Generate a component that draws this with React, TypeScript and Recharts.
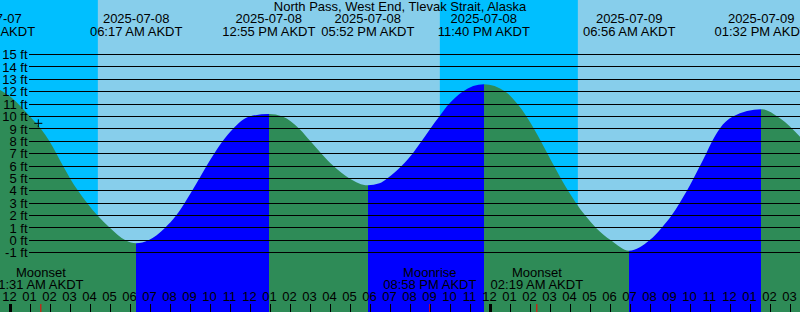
import { ComposedChart, Area, XAxis, YAxis, ReferenceArea, ReferenceDot } from "recharts";

const CHART_W = 800;
const CHART_H = 312;
const FONT = "'Liberation Sans', Arial, sans-serif";

const STATION = "North Pass, West End, Tlevak Strait, Alaska";

// hours counted from 2025-07-08 00:00 AKDT
const T_MIN = -0.525;
const T_MAX = 39.475;
const Y_MIN = -5.79;
const Y_MAX = 19.41;

// water level (ft): mostly where it crosses each foot line
const SAMPLE_HOURS = [
  -0.525, 0, 0.975, 1.525, 1.95, 2.3, 2.63, 2.98, 3.38, 3.84, 4.35, 4.98, 5.75, 6.283,
  6.9, 7.72, 8.28, 8.7, 9.08, 9.44, 9.8, 10.18, 10.6, 11.12, 11.95, 12.917,
  13.6, 14.45, 15.0, 15.55, 16.15, 16.95, 17.867,
  18.45, 18.83, 19.55, 20.1, 20.55, 20.98, 21.44, 21.92, 22.6, 23.667,
  24.75, 25.35, 25.8, 26.18, 26.52, 26.85, 27.18, 27.52, 27.88, 28.28, 28.74, 29.28,
  30.02, 30.933,
  31.95, 32.55, 33.05, 33.45, 33.82, 34.15, 34.47, 34.78, 35.08, 35.45, 36.12, 37.533,
  38.475, 39.475,
];
const LEVELS = [
  12.15, 11.6, 10, 9, 8, 7, 6, 5, 4, 3, 2, 1, 0, -0.24,
  0, 1, 2, 3, 4, 5, 6, 7, 8, 9, 10, 10.2,
  10, 9, 8, 7, 6, 5, 4.44,
  4.6, 5, 6, 7, 8, 9, 10, 11, 12, 12.6,
  12, 11, 10, 9, 8, 7, 6, 5, 4, 3, 2, 1,
  0, -0.84,
  0, 1, 2, 3, 4, 5, 6, 7, 8, 9, 10, 10.58,
  9.85, 8.37,
];

// highs and lows
const EXTREME_HOURS = [-1.1, 6.283, 12.917, 17.867, 23.667, 30.933, 37.533];
const EXTREME_LEVELS = [12.3, -0.24, 10.2, 4.44, 12.6, -0.84, 10.58];
const EXTREME_DATES = [
  "2025-07-07", "2025-07-08", "2025-07-08", "2025-07-08", "2025-07-08", "2025-07-09", "2025-07-09",
];
const EXTREME_TIMES = [
  "10:54 PM AKDT", "06:17 AM AKDT", "12:55 PM AKDT", "05:52 PM AKDT",
  "11:40 PM AKDT", "06:56 AM AKDT", "01:32 PM AKDT",
];

// sunset -> sunrise
const NIGHT_START = [-0.525, 21.467];
const NIGHT_END = [4.367, 28.367];

const MOON_HOURS = [1.517, 20.967, 26.317];
const MOON_EVENTS = ["Moonset", "Moonrise", "Moonset"];
const MOON_TIMES = ["1:31 AM AKDT", "08:58 PM AKDT", "02:19 AM AKDT"];

const NOW_HOUR = 1.39;
const NOW_LEVEL = 9.45;

const FEET_TICKS = [-1, 0, 1, 2, 3, 4, 5, 6, 7, 8, 9, 10, 11, 12, 13, 14, 15];
const HOUR_TICKS = Array.from({ length: 40 }, (_, i) => i);

const DAY = "#87ceeb";
const NIGHT = "#00bfff";
const EBB = "#2e8b57";
const FLOOD = "#0000ff";

const tideData = SAMPLE_HOURS.map((hour, i) => ({ hour, level: LEVELS[i] }));

// fill colour switches at every high / low
function buildStops() {
  const span = T_MAX - T_MIN;
  const stops: { offset: number; color: string }[] = [];
  const isHigh = (i: number) =>
    EXTREME_LEVELS[i] > (EXTREME_LEVELS[i - 1] ?? EXTREME_LEVELS[i + 1] - 1) &&
    EXTREME_LEVELS[i] > (EXTREME_LEVELS[i + 1] ?? EXTREME_LEVELS[i - 1] - 1);
  EXTREME_HOURS.forEach((t, i) => {
    if (t <= T_MIN || t >= T_MAX) return;
    const off = (t - T_MIN) / span;
    const before = isHigh(i) ? FLOOD : EBB;
    const after = isHigh(i) ? EBB : FLOOD;
    if (stops.length === 0) stops.push({ offset: 0, color: before });
    stops.push({ offset: off, color: before });
    stops.push({ offset: off, color: after });
  });
  stops.push({ offset: 1, color: stops[stops.length - 1].color });
  return stops;
}
const STOPS = buildStops();

const hourLabel = (h: number) => {
  const hr = h % 12 === 0 ? 12 : h % 12;
  return String(hr).padStart(2, "0");
};

const HourTick = (props: any) => {
  const { x, payload } = props;
  const h = payload.value as number;
  return (
    <g>
      <text x={x - 1} y={CHART_H - 10.7} textAnchor="middle" fontSize={13} fontFamily={FONT} fill="#000">
        {hourLabel(h)}
      </text>
      <line
        x1={x}
        x2={x}
        y1={CHART_H - 8}
        y2={CHART_H}
        stroke="#000"
        strokeWidth={h % 24 === 0 ? 3 : 1}
      />
    </g>
  );
};

const FeetTick = (props: any) => {
  const { y, payload } = props;
  return (
    <g>
      <line x1={29} x2={CHART_W} y1={y} y2={y} stroke="#000" shapeRendering="crispEdges" />
      <text x={27.5} y={y + 4.7} textAnchor="end" fontSize={13} fontFamily={FONT} fill="#000">
        {`${payload.value} ft`}
      </text>
    </g>
  );
};

export default function App() {
  return (
    <div style={{ width: CHART_W, height: CHART_H, background: DAY }}>
      <style>{"body{margin:0}"}</style>
      <ComposedChart
        width={CHART_W}
        height={CHART_H}
        data={tideData}
        margin={{ top: 0, right: 0, bottom: 0, left: 0 }}
      >
        <defs>
          <linearGradient id="tideFill" x1="0" y1="0" x2="1" y2="0">
            {STOPS.map((s, i) => (
              <stop key={i} offset={s.offset} stopColor={s.color} />
            ))}
          </linearGradient>
        </defs>

        {NIGHT_START.map((start, i) => (
          <ReferenceArea
            key={`night-${i}`}
            x1={start}
            x2={NIGHT_END[i]}
            fill={NIGHT}
            fillOpacity={1}
            stroke="none"
            ifOverflow="hidden"
          />
        ))}

        <Area
          dataKey="level"
          type="monotone"
          stroke="none"
          fill="url(#tideFill)"
          fillOpacity={1}
          baseValue="dataMin"
          dot={false}
          activeDot={false}
          isAnimationActive={false}
        />

        <XAxis
          dataKey="hour"
          type="number"
          domain={[T_MIN, T_MAX]}
          allowDataOverflow
          ticks={HOUR_TICKS}
          interval={0}
          mirror
          axisLine={false}
          tickLine={false}
          tick={(p: any) => <HourTick {...p} />}
        />
        <YAxis
          type="number"
          domain={[Y_MIN, Y_MAX]}
          allowDataOverflow
          ticks={FEET_TICKS}
          interval={0}
          mirror
          axisLine={false}
          tickLine={false}
          tick={(p: any) => <FeetTick {...p} />}
        />

        {EXTREME_HOURS.map((t, i) => (
          <ReferenceDot
            key={`ext-${i}`}
            x={t}
            y={Y_MAX}
            r={0}
            ifOverflow="visible"
            shape={(p: any) => (
              <g fontSize={13} fontFamily={FONT} fill="#000" textAnchor="middle">
                <text x={p.cx} y={p.cy + 23.3}>{EXTREME_DATES[i]}</text>
                <text x={p.cx} y={p.cy + 35.8}>{EXTREME_TIMES[i]}</text>
              </g>
            )}
          />
        ))}

        {MOON_HOURS.map((t, i) => (
          <ReferenceDot
            key={`moon-${i}`}
            x={t}
            y={Y_MIN}
            r={0}
            ifOverflow="visible"
            shape={(p: any) => (
              <g>
                <g fontSize={13} fontFamily={FONT} fill="#000" textAnchor="middle">
                  <text x={p.cx} y={p.cy - 34.7}>{MOON_EVENTS[i]}</text>
                  <text x={p.cx} y={p.cy - 22.7}>{MOON_TIMES[i]}</text>
                </g>
                <line x1={p.cx} x2={p.cx} y1={p.cy - 8} y2={p.cy} stroke="#ff0000" />
              </g>
            )}
          />
        ))}

        <ReferenceDot
          x={NOW_HOUR}
          y={NOW_LEVEL}
          r={0}
          ifOverflow="visible"
          shape={(p: any) => (
            <g stroke="#000" strokeWidth={1}>
              <line x1={p.cx - 4} x2={p.cx + 4} y1={p.cy} y2={p.cy} />
              <line x1={p.cx} x2={p.cx} y1={p.cy - 4} y2={p.cy + 4} />
            </g>
          )}
        />

        {/* station name, centred over the whole span */}
        <ReferenceDot
          x={(T_MIN + T_MAX) / 2}
          y={Y_MAX}
          r={0}
          ifOverflow="visible"
          shape={(p: any) => (
            <text x={p.cx} y={p.cy + 11.3} textAnchor="middle" fontSize={13} fontFamily={FONT} fill="#000">
              {STATION}
            </text>
          )}
        />
      </ComposedChart>
    </div>
  );
}
